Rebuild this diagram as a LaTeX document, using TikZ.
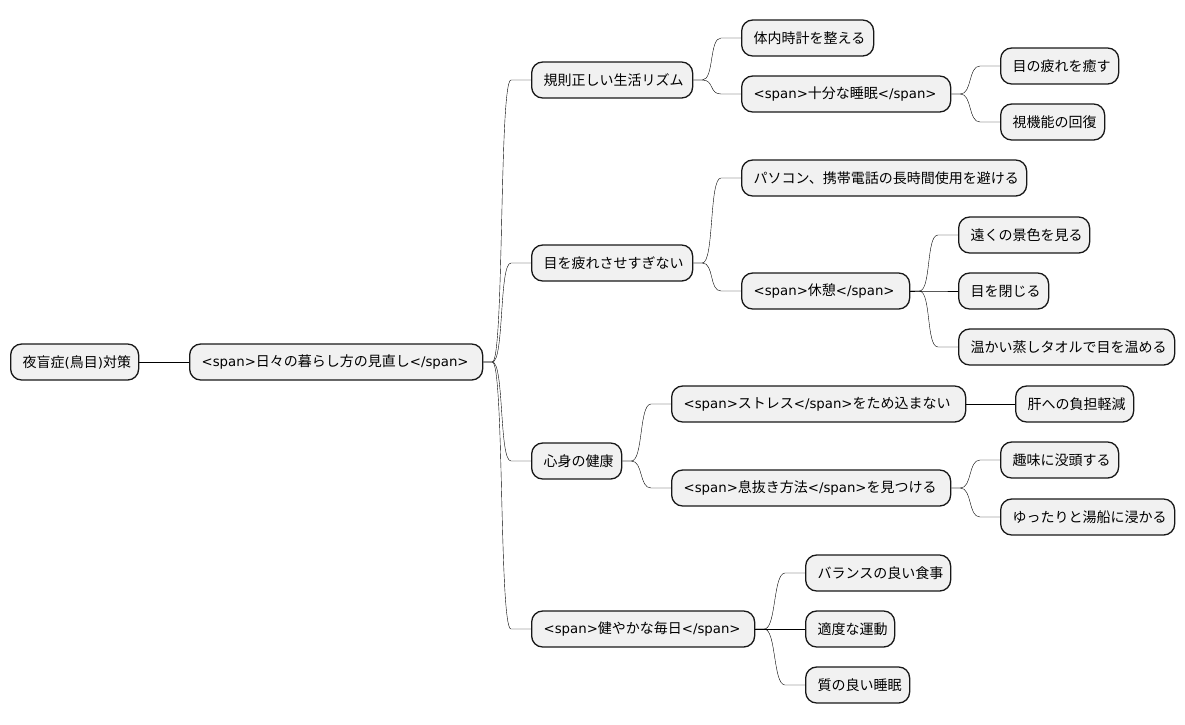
\documentclass[tikz,border=0pt]{standalone}
\usepackage{fontspec}
\setmainfont{Noto Sans CJK JP}
\newfontfamily\latn{DejaVu Sans}[Scale=0.95]
\usepackage{tikz}
\usetikzlibrary{calc}
\definecolor{ideafill}{HTML}{F1F1F1}
\definecolor{idealine}{HTML}{181818}
\tikzset{
    idea/.style={draw=idealine, line width=1.3pt, fill=ideafill, rounded corners=11pt,
        anchor=west, minimum height=36pt, inner xsep=12pt, inner ysep=0pt,
        text width=#1, align=left, font=\fontsize{14}{16}\selectfont},
    branch/.style={draw=idealine, line width=1pt,
        to path={-- ++(9,0) .. controls +(12,0) and +(-12,0) .. ($(\tikztotarget)+(-20,0)$) -- (\tikztotarget)}},
    mm/.style={x=1pt, y=-1pt}
}
\begin{document}
\begin{tikzpicture}[mm]
        \useasboundingbox (0,0) rectangle (1185,724);
        \node[idea=104pt] (root) at (10,362) {夜盲症{\latn(}鳥目{\latn)}対策};
        \node[idea=269pt] (life) at (189,362) {{\latn<span>}日々の暮らし方の見直し{\latn</span>}};

        \node[idea=137pt] (rhythm) at (531,80) {規則正しい生活リズム};
        \node[idea=108pt] (clock) at (741,38) {体内時計を整える};
        \node[idea=185pt] (sleep) at (741,94) {{\latn<span>}十分な睡眠{\latn</span>}};
        \node[idea=94pt] (heal) at (1000,66) {目の疲れを癒す};
        \node[idea=80pt] (vision) at (1000,122) {視機能の回復};

        \node[idea=137pt] (eyes) at (531,263) {目を疲れさせすぎない};
        \node[idea=261pt] (screen) at (741,178) {パソコン、携帯電話の長時間使用を避ける};
        \node[idea=144pt] (rest) at (741,291) {{\latn<span>}休憩{\latn</span>}};
        \node[idea=107pt] (far) at (958,235) {遠くの景色を見る};
        \node[idea=66pt] (close) at (958,291) {目を閉じる};
        \node[idea=192pt] (towel) at (958,347) {温かい蒸しタオルで目を温める};

        \node[idea=66pt] (mind) at (531,461) {心身の健康};
        \node[idea=270pt] (stress) at (671,404) {{\latn<span>}ストレス{\latn</span>}をため込まない};
        \node[idea=94pt] (liver) at (1015,404) {肝への負担軽減};
        \node[idea=255pt] (relax) at (671,488) {{\latn<span>}息抜き方法{\latn</span>}を見つける};
        \node[idea=94pt] (hobby) at (1000,460) {趣味に没頭する};
        \node[idea=150pt] (bath) at (1000,517) {ゆったりと湯船に浸かる};

        \node[idea=199pt] (daily) at (531,629) {{\latn<span>}健やかな毎日{\latn</span>}};
        \node[idea=121pt] (meal) at (805,573) {バランスの良い食事};
        \node[idea=65pt] (sport) at (805,629) {適度な運動};
        \node[idea=80pt] (nap) at (805,685) {質の良い睡眠};

        \draw (root.east) -- (life.west);
        \foreach \c in {rhythm, eyes, mind, daily}
            \draw (life.east) to[branch] (\c.west);
        \draw (rhythm.east) to[branch] (clock.west);
        \draw (rhythm.east) to[branch] (sleep.west);
        \draw (sleep.east) to[branch] (heal.west);
        \draw (sleep.east) to[branch] (vision.west);
        \draw (eyes.east) to[branch] (screen.west);
        \draw (eyes.east) to[branch] (rest.west);
        \foreach \c in {far, close, towel}
            \draw (rest.east) to[branch] (\c.west);
        \draw (mind.east) to[branch] (stress.west);
        \draw (mind.east) to[branch] (relax.west);
        \draw (stress.east) -- (liver.west);
        \draw (relax.east) to[branch] (hobby.west);
        \draw (relax.east) to[branch] (bath.west);
        \foreach \c in {meal, sport, nap}
            \draw (daily.east) to[branch] (\c.west);
    \end{tikzpicture}
\end{document}
